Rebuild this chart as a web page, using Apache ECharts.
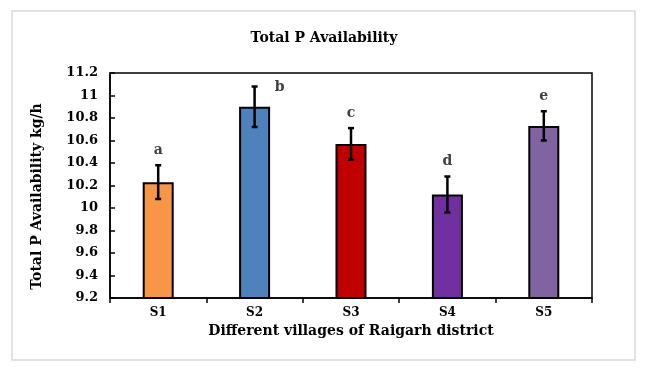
<!DOCTYPE html>
<html>
<head>
<meta charset="utf-8">
<script src="https://cdn.jsdelivr.net/npm/echarts@6/dist/echarts.min.js"></script>
<style>html,body{margin:0;padding:0;background:#fff;}#c{width:648px;height:372px;}</style>
</head>
<body>
<div id="c"></div>
<script>
var categories = ['S1', 'S2', 'S3', 'S4', 'S5'];
var values = [10.23, 10.90, 10.57, 10.12, 10.73];
var errors = [0.15, 0.18, 0.14, 0.16, 0.13];
var letters = ['a', 'b', 'c', 'd', 'e'];
var letterSide = ['top', 'right', 'top', 'top', 'top'];
var colors = ['#F79646', '#4F81BD', '#C00000', '#7030A0', '#8064A2'];

var FONT = 'DejaVu Serif';
var chart = echarts.init(document.getElementById('c'), null, {renderer: 'canvas'});

var errData = categories.map(function (c, i) { return [i, values[i] - errors[i], values[i] + errors[i], i]; });

chart.setOption({
  animation: false,
  backgroundColor: '#fff',
  title: {
    text: 'Total P Availability', left: 'center', top: 26,
    textStyle: {fontFamily: FONT, fontWeight: 'bold', fontSize: 14, color: '#000'}
  },
  graphic: [{
    type: 'rect', shape: {x: 12, y: 11, width: 623, height: 349},
    style: {fill: null, stroke: '#d9d9d9', lineWidth: 1.5}, silent: true, z: -10
  }],
  grid: {left: 110, top: 73, right: 56, bottom: 74, show: true, borderColor: '#000', borderWidth: 1.5, backgroundColor: 'transparent'},
  xAxis: {
    type: 'category', data: categories,
    name: 'Different villages of Raigarh district', nameLocation: 'middle', nameGap: 25,
    nameTextStyle: {fontFamily: FONT, fontWeight: 'bold', fontSize: 14, color: '#000'},
    axisLine: {lineStyle: {color: '#000', width: 1.5}},
    axisTick: {show: true, inside: false, length: 5, lineStyle: {color: '#000', width: 1.5}},
    axisLabel: {fontFamily: FONT, fontWeight: 'bold', fontSize: 12, color: '#000', margin: 9}
  },
  yAxis: {
    type: 'value', min: 9.2, max: 11.2, interval: 0.2,
    name: 'Total P Availability kg/h', nameLocation: 'middle', nameGap: 66,
    nameTextStyle: {fontFamily: FONT, fontWeight: 'bold', fontSize: 14, color: '#000', padding: [0, 22, 0, 0]},
    axisLine: {show: true, lineStyle: {color: '#000', width: 1.5}},
    axisTick: {show: true, inside: true, length: 5, lineStyle: {color: '#000', width: 1.5}},
    splitLine: {show: false},
    axisLabel: {
      fontFamily: FONT, fontWeight: 'bold', fontSize: 13, color: '#000', margin: 12,
      formatter: function (v) { return String(Math.round(v * 10) / 10); }
    }
  },
  series: [{
    type: 'bar', barWidth: 31,
    data: values.map(function (v, i) {
      return {value: v, itemStyle: {color: colors[i], borderColor: '#000', borderWidth: 2}};
    }),
    z: 2
  }, {
    type: 'custom', z: 5,
    data: errData,
    renderItem: function (params, api) {
      var i = api.value(3);
      var lo = api.coord([api.value(0), api.value(1)]);
      var hi = api.coord([api.value(0), api.value(2)]);
      var cap = 3;
      var lw = 2.5;
      var side = letterSide[i];
      var tx = side === 'right' ? hi[0] + 25 : hi[0];
      var ty = side === 'right' ? hi[1] + 1 : hi[1] - 15;
      return {
        type: 'group',
        children: [
          {type: 'line', shape: {x1: hi[0], y1: hi[1], x2: lo[0], y2: lo[1]}, style: {stroke: '#000', lineWidth: lw}},
          {type: 'line', shape: {x1: hi[0] - cap, y1: hi[1], x2: hi[0] + cap, y2: hi[1]}, style: {stroke: '#000', lineWidth: lw}},
          {type: 'line', shape: {x1: lo[0] - cap, y1: lo[1], x2: lo[0] + cap, y2: lo[1]}, style: {stroke: '#000', lineWidth: lw}},
          {type: 'text', style: {
            text: letters[i], x: tx, y: ty, textAlign: 'center', textVerticalAlign: 'middle',
            fontFamily: FONT, fontWeight: 'bold', fontSize: 14, fill: '#404040'
          }}
        ]
      };
    }
  }]
});
</script>
</body>
</html>
